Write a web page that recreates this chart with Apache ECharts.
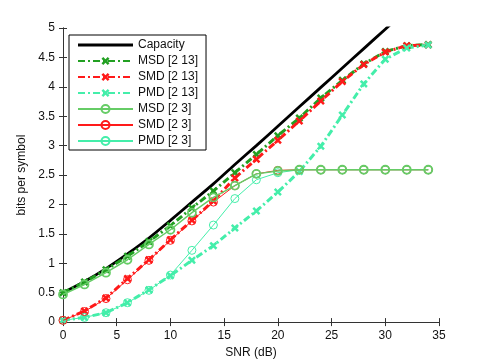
<!DOCTYPE html>
<html>
<head>
<meta charset="utf-8">
<script src="https://cdn.jsdelivr.net/npm/echarts@6/dist/echarts.min.js"></script>
<style>
  html, body { margin: 0; padding: 0; background: #fff; }
  #chart { width: 485px; height: 364px; }
</style>
</head>
<body>
<div id="chart"></div>
<script>
// SNR points (dB)
const snr = [0, 2, 4, 6, 8, 10, 12, 14, 16, 18, 20, 22, 24, 26, 28, 30, 32, 34]
const capSnr = [0, 2, 4, 6, 8, 10, 12, 14, 16, 18, 20, 22, 24, 26, 28, 30, 32]

const capacity = [0.5, 0.69, 0.91, 1.16, 1.43, 1.73, 2.04, 2.35, 2.68, 3.0, 3.33, 3.66, 3.99, 4.32, 4.65, 4.98, 5.31]

const msd213 = [0.5, 0.68, 0.89, 1.12, 1.37, 1.64, 1.94, 2.23, 2.54, 2.85, 3.17, 3.47, 3.81, 4.11, 4.39, 4.6, 4.7, 4.72]
const smd213 = [0.03, 0.19, 0.41, 0.74, 1.06, 1.4, 1.73, 2.06, 2.45, 2.77, 3.09, 3.42, 3.76, 4.09, 4.38, 4.59, 4.7, 4.71]
const pmd213 = [0.03, 0.08, 0.16, 0.33, 0.55, 0.79, 1.05, 1.3, 1.6, 1.89, 2.21, 2.56, 2.99, 3.52, 4.05, 4.47, 4.66, 4.71]

const msd23 = [0.47, 0.64, 0.84, 1.06, 1.32, 1.57, 1.86, 2.12, 2.32, 2.52, 2.57, 2.59, 2.59, 2.59, 2.59, 2.59, 2.59, 2.59]
const smd23 = [0.03, 0.18, 0.4, 0.72, 1.05, 1.39, 1.72, 2.04, 2.32, 2.52, 2.58, 2.59, 2.59, 2.59, 2.59, 2.59, 2.59, 2.59]
const pmd23 = [0.03, 0.08, 0.16, 0.33, 0.54, 0.8, 1.22, 1.65, 2.1, 2.42, 2.54, 2.59, 2.59, 2.59, 2.59, 2.59, 2.59, 2.59]

const GREEN = '#22a022'
const RED = '#ff1a1a'
const CYAN = '#44eeaa'
const LGREEN = '#66cc66'

// bold "x" marker
const xMark = 'path://M0,2.2L2.2,0L5,2.8L7.8,0L10,2.2L7.2,5L10,7.8L7.8,10L5,7.2L2.2,10L0,7.8L2.8,5Z'
const dashDot = [7, 3, 2, 3]

const chart = echarts.init(document.getElementById('chart'))

function pairs(xs, ys) {
  return xs.map((x, i) => [x, ys[i]])
}

const frameAxis = {
  axisLine: { show: true, lineStyle: { color: '#333', width: 1 } },
  axisTick: { show: true, inside: true, length: 4, lineStyle: { color: '#333' } },
  splitLine: { show: false },
  axisLabel: { color: '#111', fontSize: 12, fontFamily: 'Liberation Sans' }
}

const bigLine = (name, data, color) => ({
  name, type: 'line', data: pairs(snr, data),
  symbol: xMark, symbolSize: 8,
  itemStyle: { color },
  lineStyle: { color, width: 3, type: dashDot },
  z: 3
})

// thin solid line with hollow circles
const smallLine = (name, data, color, z, bw, lw) => ({
  name, type: 'line', data: pairs(snr, data),
  symbol: 'circle', symbolSize: 8,
  itemStyle: { color: 'rgba(255,255,255,0)', borderColor: color, borderWidth: bw },
  lineStyle: { color, width: lw },
  z
})

chart.setOption({
  animation: false,
  backgroundColor: '#fff',
  textStyle: { fontFamily: 'Liberation Sans' },
  grid: { left: 63, right: 46, top: 28, bottom: 41 },
  legend: {
    orient: 'vertical',
    left: 69, top: 35,
    backgroundColor: '#fff',
    borderColor: '#000', borderWidth: 1,
    padding: [4, 8, 3, 8],
    itemWidth: 55, itemHeight: 10, itemGap: 4,
    textStyle: { fontSize: 12, color: '#111', fontFamily: 'Liberation Sans' },
    data: [
      { name: 'Capacity', icon: 'path://M0,3.6h55v2.8h-55z', itemStyle: { color: '#000' } },
      'MSD [2 13]', 'SMD [2 13]', 'PMD [2 13]', 'MSD [2 3]', 'SMD [2 3]', 'PMD [2 3]'
    ]
  },
  xAxis: [
    Object.assign({}, frameAxis, {
      type: 'value', min: 0, max: 35, interval: 5,
      name: 'SNR (dB)', nameLocation: 'middle', nameGap: 17,
      nameTextStyle: { fontSize: 12, color: '#111', fontFamily: 'Liberation Sans' }
    }),
    Object.assign({}, frameAxis, {
      type: 'value', min: 0, max: 35, interval: 5, position: 'top',
      axisLabel: { show: false }
    })
  ],
  yAxis: [
    Object.assign({}, frameAxis, {
      type: 'value', min: 0, max: 5, interval: 0.5,
      name: 'bits per symbol', nameLocation: 'middle', nameGap: 26,
      nameTextStyle: { fontSize: 12, color: '#111', fontFamily: 'Liberation Sans' }
    }),
    Object.assign({}, frameAxis, {
      type: 'value', min: 0, max: 5, interval: 0.5, position: 'right',
      axisLabel: { show: false }
    })
  ],
  series: [
    {
      name: 'Capacity', type: 'line', data: pairs(capSnr, capacity),
      symbol: 'none', smooth: 0.3, clip: true,
      itemStyle: { color: '#000' },
      lineStyle: { color: '#000', width: 2.8 },
      z: 2
    },
    bigLine('MSD [2 13]', msd213, GREEN),
    bigLine('SMD [2 13]', smd213, RED),
    bigLine('PMD [2 13]', pmd213, CYAN),
    smallLine('MSD [2 3]', msd23, LGREEN, 6, 1.8, 1.5),
    smallLine('SMD [2 3]', smd23, RED, 5, 1, 1),
    smallLine('PMD [2 3]', pmd23, CYAN, 4, 1, 1)
  ]
})
</script>
</body>
</html>
